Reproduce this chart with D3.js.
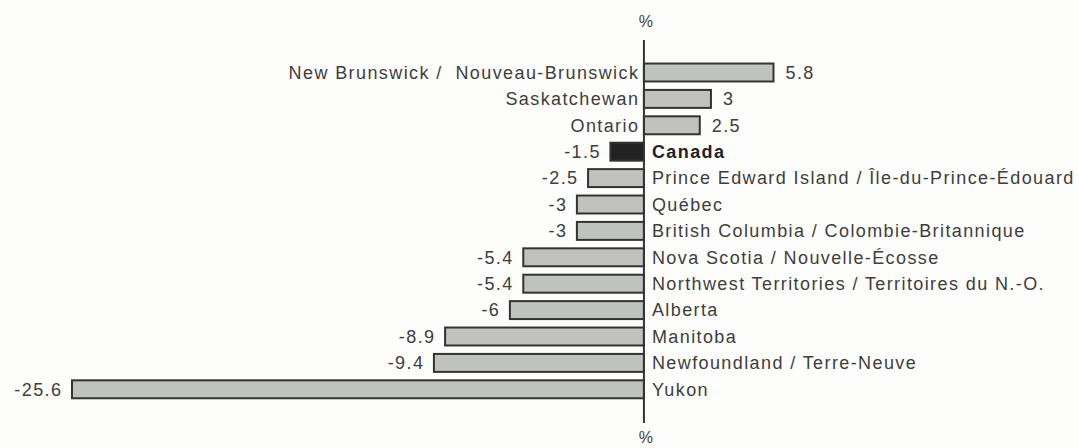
<!DOCTYPE html>
<html>
<head>
<meta charset="utf-8">
<script src="https://cdn.jsdelivr.net/npm/d3@7"></script>
<style>
  html, body { margin: 0; padding: 0; background: #fdfdfc; }
  svg { display: block; }
  text { font-family: "Liberation Sans", Arial, sans-serif; fill: #3d3d3d; white-space: pre; }
</style>
</head>
<body>
<svg id="chart" width="1079" height="448"></svg>
<script>
const categories = [
  "New Brunswick /  Nouveau-Brunswick",
  "Saskatchewan",
  "Ontario",
  "Canada",
  "Prince Edward Island / Île-du-Prince-Édouard",
  "Québec",
  "British Columbia / Colombie-Britannique",
  "Nova Scotia / Nouvelle-Écosse",
  "Northwest Territories / Territoires du N.-O.",
  "Alberta",
  "Manitoba",
  "Newfoundland / Terre-Neuve",
  "Yukon"
];
const values = [5.8, 3, 2.5, -1.5, -2.5, -3, -3, -5.4, -5.4, -6, -8.9, -9.4, -25.6];
const valueLabels = ["5.8", "3", "2.5", "-1.5", "-2.5", "-3", "-3", "-5.4", "-5.4", "-6", "-8.9", "-9.4", "-25.6"];
const highlight = "Canada";
const unitLabel = "%";

const data = categories.map((c, i) => ({ name: c, value: values[i], label: valueLabels[i] }));

const svg = d3.select("#chart");
const FS = 18, LSv = 1.4, LS = LSv + "px";

const x = d3.scaleLinear()
  .domain([d3.min(values), d3.max(values)])
  .range([72, 773.5]);

const y = d3.scaleBand()
  .domain(categories)
  .range([59.3, 59.3 + 26.4 * categories.length])
  .paddingInner(0.32)
  .paddingOuter(0.16);

const x0 = x(0);

// bars
svg.append("g")
  .selectAll("rect")
  .data(data)
  .join("rect")
  .attr("x", d => Math.min(x(d.value), x0))
  .attr("y", d => y(d.name))
  .attr("width", d => Math.abs(x(d.value) - x0))
  .attr("height", y.bandwidth())
  .attr("fill", d => d.name === highlight ? "#222222" : "#bfc2bf")
  .attr("stroke", "#333")
  .attr("stroke-width", 2);

// zero axis
svg.append("line")
  .attr("x1", x0).attr("x2", x0)
  .attr("y1", 40).attr("y2", 423)
  .attr("stroke", "#333")
  .attr("stroke-width", 2);

// category labels
svg.append("g")
  .selectAll("text")
  .data(data)
  .join("text")
  .attr("x", d => d.value >= 0 ? x0 - 6 + LSv : x0 + 8)
  .attr("y", d => y(d.name) + y.bandwidth() / 2)
  .attr("dy", "0.35em")
  .attr("text-anchor", d => d.value >= 0 ? "end" : "start")
  .attr("font-size", FS)
  .style("letter-spacing", LS)
  .attr("font-weight", d => d.name === highlight ? "bold" : "normal")
  .style("fill", d => d.name === highlight ? "#222" : null)
  .text(d => d.name);

// value labels
svg.append("g")
  .selectAll("text")
  .data(data)
  .join("text")
  .attr("x", d => d.value >= 0 ? x(d.value) + 12 : x(d.value) - 11 + LSv)
  .attr("y", d => y(d.name) + y.bandwidth() / 2)
  .attr("dy", "0.35em")
  .attr("text-anchor", d => d.value >= 0 ? "start" : "end")
  .attr("font-size", FS)
  .style("letter-spacing", LS)
  .text(d => d.label);

// unit labels
svg.append("text")
  .attr("x", x0 + 2).attr("y", 21).attr("dy", "0.35em")
  .attr("text-anchor", "middle").attr("font-size", 16)
  .text(unitLabel);
svg.append("text")
  .attr("x", x0 + 2).attr("y", 437).attr("dy", "0.35em")
  .attr("text-anchor", "middle").attr("font-size", 16)
  .text(unitLabel);
</script>
</body>
</html>
